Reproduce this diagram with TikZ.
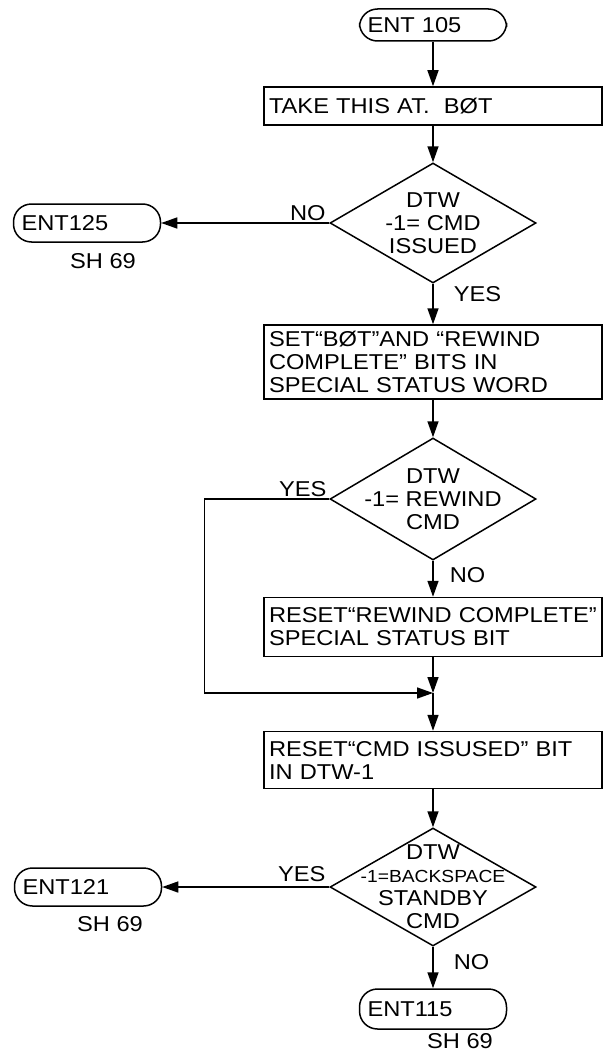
\documentclass[tikz,border=0pt]{standalone}
\usepackage{fontspec}
\setmainfont{Liberation Sans}[FakeStretch=1.1]
\usetikzlibrary{arrows.meta, positioning, shapes.geometric}

\begin{document}
\begin{tikzpicture}[
    x=1pt, y=-1pt,
    font=\fontsize{21.5}{23}\selectfont,
    line width=1.5pt,
    >={Triangle[length=16pt, width=11pt]},
    % estilos do fluxograma
    term/.style={rectangle, draw, rounded corners=18pt, minimum width=147pt, minimum height=38pt, inner xsep=8pt, text width=131pt, align=left},
    proc/.style={rectangle, draw, text width=328pt, inner xsep=5pt, inner ysep=5pt, align=left},
    test/.style={diamond, draw, align=center, inner sep=-32pt, minimum width=206pt, minimum height=120pt},
    ref/.style={inner sep=1pt},
    yn/.style={inner sep=2pt}
]
    \useasboundingbox (0,0) rectangle (605,1057);

    % ================= ENTRADA =================
    \node[term, minimum height=32pt] (ent105) at (433,25) {ENT 105};
    \node[proc, minimum height=38pt] (take) at (433,106) {TAKE THIS AT.\ \ BØT};

    % ================= TESTE 1: CMD ISSUED =================
    \node[test] (cmdq) at (433,223) {DTW\\-1= CMD\\ISSUED};
    \node[term] (ent125) at (87,223) {ENT125};
    \node[ref] (sh125) at (103,261) {SH 69};

    \node[proc, minimum height=74pt] (setbits) at (433,362) {SET“BØT”AND “REWIND\\COMPLETE” BITS IN\\SPECIAL STATUS WORD};

    % ================= TESTE 2: REWIND CMD =================
    \node[test, minimum height=122pt] (rewq) at (433,499) {DTW\\-1= REWIND\\CMD};
    \node[proc, minimum height=59pt] (rstrew) at (433,627) {RESET“REWIND COMPLETE”\\SPECIAL STATUS BIT};
    \coordinate (join) at (433,693);
    \node[proc, minimum height=57pt] (rstcmd) at (433,760) {RESET“CMD ISSUSED” BIT\\IN DTW-1};

    % ================= TESTE 3: BACKSPACE STANDBY =================
    \node[test, minimum height=118pt] (bsq) at (433,887) {DTW\\{\fontsize{17.5}{19}\selectfont -1=BACKSPACE}\\STANDBY\\CMD};
    \node[term] (ent121) at (88,887) {ENT121};
    \node[ref] (sh121) at (110,924) {SH 69};
    \node[term, minimum width=144pt, minimum height=40pt] (ent115) at (433,1009) {ENT115};
    \node[ref] (sh115) at (460,1041) {SH 69};

    % ================= LIGAÇÕES =================
    \draw[->] (ent105) -- (take);
    \draw[->] (take) -- (cmdq.north);
    \draw[->] (cmdq.west) -- node[yn, pos=0, anchor=south east, xshift=-1pt] {NO} (ent125);
    \draw[->] (cmdq.south) -- node[yn, pos=0, anchor=north west, xshift=18pt] {YES} (setbits);
    \draw[->] (setbits) -- (rewq.north);

    % desvio YES contornando o reset
    \draw[->] (rewq.west) -- node[yn, pos=0, anchor=south east] {YES} ++(-125,0) |- (join);
    \draw[->] (rewq.south) -- node[yn, pos=0, anchor=north west, xshift=14pt, yshift=-4pt] {NO} (rstrew);
    \draw[->] (rstrew) -- (join);
    \draw[->] (join) -- (rstcmd);
    \draw[->] (rstcmd) -- (bsq.north);

    \draw[->] (bsq.west) -- node[yn, pos=0, anchor=south east, xshift=-1pt, yshift=3pt] {YES} (ent121);
    \draw[->] (bsq.south) -- node[yn, pos=0, anchor=north west, xshift=18pt, yshift=-5pt] {NO} (ent115);

\end{tikzpicture}
\end{document}
